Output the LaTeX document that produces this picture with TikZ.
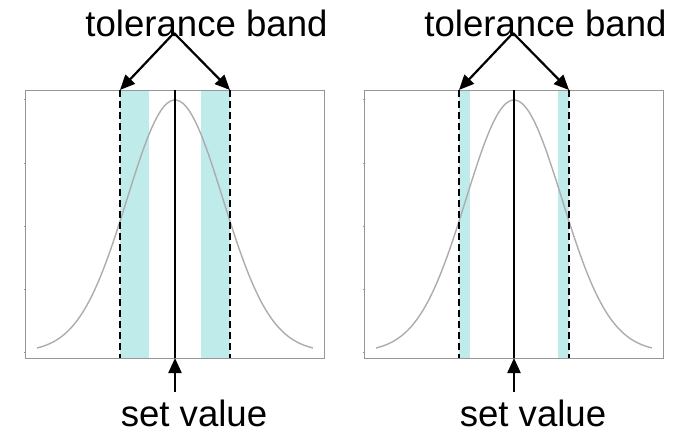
\documentclass[tikz,border=0pt]{standalone}
\usepackage{fontspec}
\setmainfont{Liberation Sans}
\usepackage{xcolor}
\definecolor{bandcyan}{RGB}{191,235,234}
\definecolor{framegray}{RGB}{150,150,150}
\definecolor{curvegray}{RGB}{172,172,172}
\usetikzlibrary{arrows.meta,positioning}
\tikzset{
  >={Triangle[length=15pt,width=13pt]},
  frame/.style={draw=framegray,line width=1pt},
  band/.style={fill=bandcyan,draw=none},
  bell/.style={draw=curvegray,line width=1.4pt},
  limit/.style={draw=black,line width=1.7pt,dash pattern=on 7pt off 4pt},
  setline/.style={draw=black,line width=2.2pt},
  pointer/.style={->,line width=2.2pt},
  bigtext/.style={font=\fontsize{36.6}{40}\selectfont,inner sep=0pt,anchor=base}
}

\begin{document}
\begin{tikzpicture}[x=1pt,y=-1pt]
  \useasboundingbox (0,0) rectangle (693,431);

  \foreach \p/\c/\bw in {a/175/29,b/514/11}{
    % tolerance bands
    \fill[band] (\c-55,90) rectangle (\c-55+\bw,358);
    \fill[band] (\c+55-\bw,90) rectangle (\c+55,358);

    % distribution
    \draw[bell] plot[domain=-138:138,samples=90,smooth]
      ({\c+\x},{352-252*exp(-0.5*(\x/48)^2)});

    % axes box with ticks
    \draw[frame] (\c-149.5,90) rectangle (\c+149.5,358);
    \foreach \t in {99,163,226,289,352}
      \draw[frame] (\c-151.5,\t) -- (\c-149.5,\t);

    % set value and limits
    \coordinate (lo\p) at (\c-55,90);
    \coordinate (hi\p) at (\c+55,90);
    \coordinate (set\p) at (\c,358);
    \draw[setline] (\c,90) -- (set\p);
    \draw[limit] (lo\p) -- (\c-55,358);
    \draw[limit] (hi\p) -- (\c+55,358);

    % labels
    \node[bigtext] (tb\p) at (\c+31.5,36) {tolerance band};
    \node[bigtext] (sv\p) at (\c+19,426) {set value};
    \coordinate (fork\p) at (\c-1,33);
    \coordinate (foot\p) at (\c,392);
    \draw[pointer] (fork\p) -- (lo\p);
    \draw[pointer] (fork\p) -- (hi\p);
    \draw[pointer] (foot\p) -- (set\p);
  }
\end{tikzpicture}
\end{document}
